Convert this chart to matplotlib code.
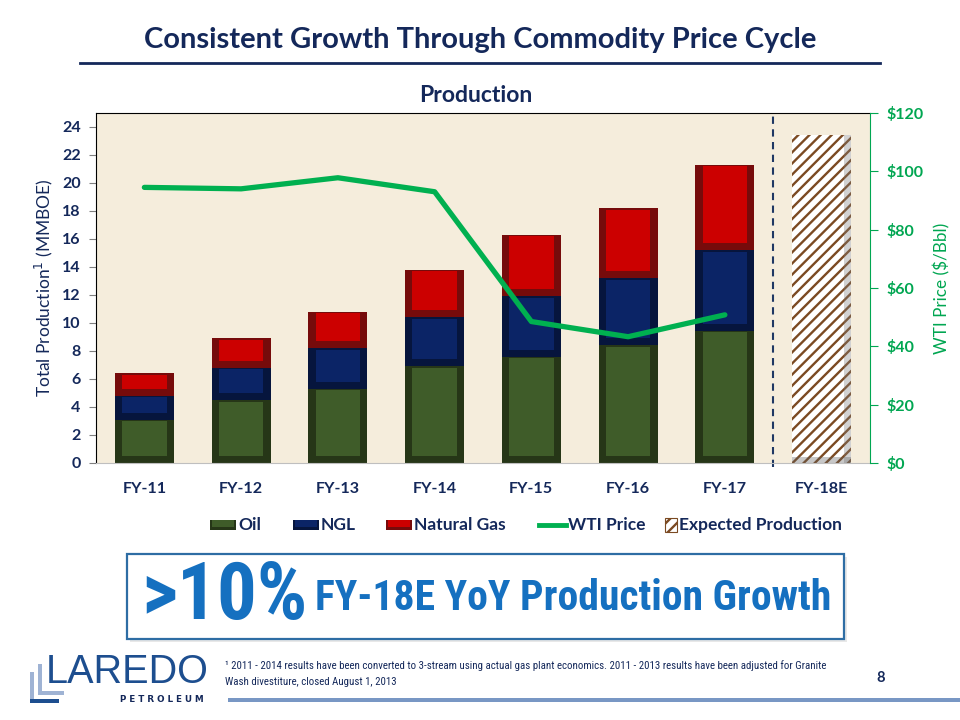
import matplotlib
matplotlib.use("Agg")
import matplotlib.pyplot as plt
from matplotlib.patches import Rectangle
from matplotlib.lines import Line2D
from matplotlib import font_manager
import numpy as np

# ---------------- data ----------------
categories = ["FY-11", "FY-12", "FY-13", "FY-14", "FY-15", "FY-16", "FY-17", "FY-18E"]
oil = [3.1, 4.5, 5.3, 6.9, 7.6, 8.4, 9.45]
ngl = [1.7, 2.3, 2.9, 3.5, 4.3, 4.8, 5.75]
gas = [1.6, 2.1, 2.6, 3.4, 4.4, 5.0, 6.1]
expected = [23.4]
wti = [94.5, 94.0, 97.8, 93.0, 48.5, 43.3, 50.8]
left_ticks = list(range(0, 25, 2))
right_ticks = [0, 20, 40, 60, 80, 100, 120]
right_ticklabels = ["$0", "$20", "$40", "$60", "$80", "$100", "$120"]

# ---------------- style ----------------
NAVY = "#14285a"
GREEN = "#00a651"
LINEGREEN = "#00b050"
BG = "#f5eddc"
FONT = ["Lato", "DejaVu Sans"]
plt.rcParams["font.family"] = FONT
plt.rcParams["hatch.linewidth"] = 1.7

installed = {f.name for f in font_manager.fontManager.ttflist}
if "Liberation Sans Narrow" in installed:
    NARROW, big_fs, mid_fs, foot_fs = ["Liberation Sans Narrow"], 56, 31, 6.5
elif "Roboto Condensed" in installed:
    NARROW, big_fs, mid_fs, foot_fs = ["Roboto Condensed"], 57, 30, 7.8
else:
    NARROW, big_fs, mid_fs, foot_fs = ["Liberation Sans", "DejaVu Sans"], 46, 25.4, 6.9

fig = plt.figure(figsize=(9.6, 7.2), dpi=100)
fig.patch.set_facecolor("white")

W, H = 960.0, 720.0
L, R, T, B = 96, 870, 113, 463
ax = fig.add_axes([L / W, (H - B) / H, (R - L) / W, (B - T) / H])
ax.set_facecolor(BG)
ax2 = ax.twinx()

x = np.arange(len(categories))
bw = 0.61
side = 0.075
bot_in = 0.5
top_in = 0.12

segs = [
    (oil, "#3f5c29", "#263617"),
    (ngl, "#0b2466", "#06153d"),
    (gas, "#cc0000", "#760b0b"),
]
bottoms = np.zeros(len(oil))
for vals, main, dark in segs:
    v = np.array(vals)
    xs = x[:len(v)]
    ax.bar(xs, v, bottom=bottoms, width=bw, color=dark, linewidth=0, zorder=2)
    ax.bar(xs, v - bot_in - top_in, bottom=bottoms + bot_in, width=bw - 2 * side,
           color=main, linewidth=0, zorder=3)
    bottoms = bottoms + v

# expected (hatched) bar
xe = x[len(oil):]
ax.bar(xe, expected, width=bw, facecolor="white", edgecolor="#7b4a22",
       hatch="///", linewidth=0, zorder=2)
ax.bar(xe + bw / 2 - side / 2, expected, width=side, color="#808080", alpha=0.35,
       linewidth=0, zorder=3)
ax.bar(xe, [0.45], width=bw, color="#606060", alpha=0.35, linewidth=0, zorder=3)

ax.axvline(6.5, ymin=-0.01, color="#1f3864", ls=(0, (3.5, 2.6)), lw=1.5, zorder=1,
           clip_on=False)

ax.set_xlim(-0.5, len(categories) - 0.5)
ax.set_ylim(0, 25)
ax.set_yticks(left_ticks)
ax.set_xticks(x)
ax.set_xticklabels(categories)
for lab in ax.get_xticklabels():
    lab.set_fontweight("bold")
    lab.set_color(NAVY)
    lab.set_fontsize(11.6)
for lab in ax.get_yticklabels():
    lab.set_fontweight("bold")
    lab.set_color(NAVY)
    lab.set_fontsize(11.5)
ax.tick_params(axis="x", length=0, pad=14)
ax.tick_params(axis="y", length=5, color="#808080", pad=6)
ax.spines["top"].set_color("black")
ax.spines["left"].set_color("black")
ax.spines["bottom"].set_color("#bfbfbf")
ax.spines["right"].set_visible(False)
ax.set_ylabel("Total Production$^{1}$ (MMBOE)", color=NAVY, fontsize=12.5, labelpad=5)

ax2.plot(x[:len(wti)], wti, color=LINEGREEN, lw=3.8, solid_capstyle="round",
         solid_joinstyle="round", zorder=5)
ax2.set_ylim(0, 120)
ax2.set_yticks(right_ticks)
ax2.set_yticklabels(right_ticklabels)
for lab in ax2.get_yticklabels():
    lab.set_fontweight("bold")
    lab.set_color(GREEN)
    lab.set_fontsize(11.5)
ax2.tick_params(axis="y", length=6, color=GREEN, pad=6)
for s in ["top", "left", "bottom"]:
    ax2.spines[s].set_visible(False)
ax2.spines["right"].set_color(GREEN)
ax2.set_ylabel("WTI Price ($/Bbl)", color=GREEN, fontsize=12.3, labelpad=7)

# ---------------- overlay (page elements) ----------------
ov = fig.add_axes([0, 0, 1, 1], zorder=10)
ov.set_xlim(0, W)
ov.set_ylim(H, 0)
ov.axis("off")
ov.patch.set_visible(False)

ov.text(480, 40, "Consistent Growth Through Commodity Price Cycle", ha="center",
        va="center", fontsize=21, fontweight="bold", color=NAVY)
ov.plot([80, 880], [63, 63], color=NAVY, lw=2)
ov.text(476, 96, "Production", ha="center", va="center", fontsize=16.5,
        fontweight="bold", color=NAVY)

# legend
ly = 525
LFS = 12.5
def leg_patch(x0, main, dark, label, w=26):
    ov.add_patch(Rectangle((x0, ly - 5), w, 10, facecolor=dark, edgecolor="none"))
    ov.add_patch(Rectangle((x0 + 2, ly - 5), w - 4, 7, facecolor=main, edgecolor="none"))
    ov.text(x0 + w + 2, ly, label, ha="left", va="center", fontsize=LFS,
            fontweight="bold", color=NAVY)

leg_patch(210, "#3f5c29", "#263617", "Oil")
leg_patch(293, "#0b2466", "#06153d", "NGL")
leg_patch(386, "#cc0000", "#760b0b", "Natural Gas")
ov.add_line(Line2D([539, 566], [ly, ly], color=LINEGREEN, lw=3.5))
ov.text(568, ly, "WTI Price", ha="left", va="center", fontsize=LFS,
        fontweight="bold", color=NAVY)
ov.add_patch(Rectangle((665, ly - 7), 12, 14, facecolor="white", edgecolor="#7b4a22",
                       hatch="///", lw=0.8))
ov.text(679, ly, "Expected Production", ha="left", va="center", fontsize=LFS,
        fontweight="bold", color=NAVY)

# callout box
ov.add_patch(Rectangle((130, 557), 717, 85, facecolor="#d9d9d9", edgecolor="none", alpha=0.6))
ov.add_patch(Rectangle((127, 554), 717, 85, facecolor="white", edgecolor="#2e6da4", lw=1.6))
ov.text(141, 598, ">10%", ha="left", va="center", fontsize=big_fs, fontweight="bold",
        color="#1570c0", family=NARROW)
ov.text(315, 599, "FY-18E YoY Production Growth", ha="left", va="center", fontsize=mid_fs,
        fontweight="bold", color="#1570c0", family=NARROW)

# logo
LOGO = "#1d4e8f"
LIGHT = "#9fb3d4"
ov.add_patch(Rectangle((30, 672), 4, 31, facecolor=LIGHT, edgecolor="none"))
ov.add_patch(Rectangle((30, 699), 29, 4, facecolor=LOGO, edgecolor="none"))
ov.add_patch(Rectangle((38, 664), 4, 31, facecolor=LIGHT, edgecolor="none"))
ov.add_patch(Rectangle((38, 691), 26, 4, facecolor=LIGHT, edgecolor="none"))
ov.text(46, 672, "LAREDO", ha="left", va="center", fontsize=28.5, color=LOGO,
        family=["Liberation Sans", "DejaVu Sans"])
ov.text(204, 700, "P E T R O L E U M", ha="right", va="center", fontsize=6.3, color=NAVY,
        fontweight="bold", family=["DejaVu Sans"])

# footnote
ov.text(225, 666, "\u00b9 2011 - 2014 results have been converted to 3-stream using actual gas plant "
        "economics. 2011 - 2013 results have been adjusted for Granite",
        ha="left", va="center", fontsize=foot_fs, color=NAVY, family=NARROW)
ov.text(225, 682, "Wash divestiture, closed August 1, 2013",
        ha="left", va="center", fontsize=foot_fs, color=NAVY, family=NARROW)
ov.text(881, 678, "8", ha="center", va="center", fontsize=10.5, fontweight="bold", color=NAVY)
ov.add_patch(Rectangle((228, 698), 732, 4, facecolor="#7897c4", edgecolor="none"))

fig.savefig("out.png", dpi=100, facecolor="white")
